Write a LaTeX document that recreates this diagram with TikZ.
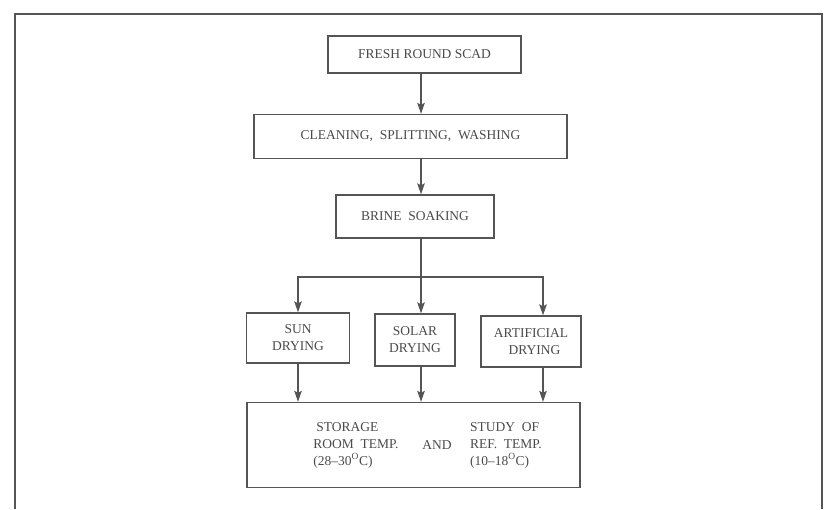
\documentclass[tikz,border=0pt]{standalone}
\usepackage{fontspec}
\setmainfont{Liberation Serif}
\usetikzlibrary{arrows.meta}

\definecolor{inkgray}{HTML}{4A4A4A}
\definecolor{linegray}{HTML}{555555}

\begin{document}
\begin{tikzpicture}[
            x=1pt, y=-1pt,
            framing/.style={color=linegray, line width=1.8pt},
            processbox/.style={draw=linegray, line width=1.3pt, align=center, text=inkgray,
                inner sep=0pt, font=\fontsize{13.5}{17}\selectfont},
            flowline/.style={color=linegray, line width=1.5pt},
            flowarrow/.style={flowline, -{Stealth[length=11pt, width=7.5pt, inset=2pt]}},
            plaintext/.style={align=left, text=inkgray, inner sep=0pt, font=\fontsize{13.5}{17}\selectfont}
        ]
            \useasboundingbox (0, 0) rectangle (826, 509);

            % outer frame (open at the bottom)
            \draw[framing] (15, 509) -- (15, 14) -- (822, 14) -- (822, 509);

            % boxes
            \node[processbox, minimum width=193pt, minimum height=37pt] (fresh) at (424.5, 54.5) {FRESH ROUND SCAD};
            \node[processbox, minimum width=313pt, minimum height=44pt] (clean) at (410.5, 136.5) {CLEANING, \ SPLITTING, \ WASHING};
            \node[processbox, minimum width=158pt, minimum height=43pt] (brine) at (415, 216.5) {BRINE \ SOAKING};

            \node[processbox, minimum width=103pt, minimum height=50pt] (sun) at (298, 338) {SUN\\DRYING};
            \node[processbox, minimum width=80pt, minimum height=52pt] (solar) at (415, 340) {SOLAR\\DRYING};
            \node[processbox, minimum width=100pt, minimum height=51pt] (art) at (531, 341.5) {ARTIFICIAL\\\ \ DRYING};

            \node[processbox, minimum width=333pt, minimum height=85pt] (store) at (413.5, 445) {};

            % text in the storage box
            \node[plaintext] (roomtxt) at (356, 445) {\hspace{3pt}STORAGE\\ROOM \ TEMP.\\(28--30\textsuperscript{O}C)};
            \node[plaintext] (andtxt) at (437, 445) {AND};
            \node[plaintext] (reftxt) at (506, 445) {STUDY \ OF\\REF. \ TEMP.\\(10--18\textsuperscript{O}C)};

            % stem and fork
            \coordinate (fork) at (421, 277);
            \coordinate (artx) at (543, 277);

            \draw[flowarrow] (fresh.south -| fork) -- (clean.north -| fork);
            \draw[flowarrow] (clean.south -| fork) -- (brine.north -| fork);
            \draw[flowline] (brine.south -| fork) -- (fork);

            \draw[flowarrow] (fork) -| (sun.north);
            \draw[flowarrow] (fork) -- (solar.north -| fork);
            \draw[flowarrow] (fork) -- (artx) -- (art.north -| artx);

            % drying to storage
            \draw[flowarrow] (sun.south) -- (sun.south |- store.north);
            \draw[flowarrow] (solar.south -| fork) -- (store.north -| fork);
            \draw[flowarrow] (art.south -| artx) -- (store.north -| artx);

        \end{tikzpicture}
\end{document}
